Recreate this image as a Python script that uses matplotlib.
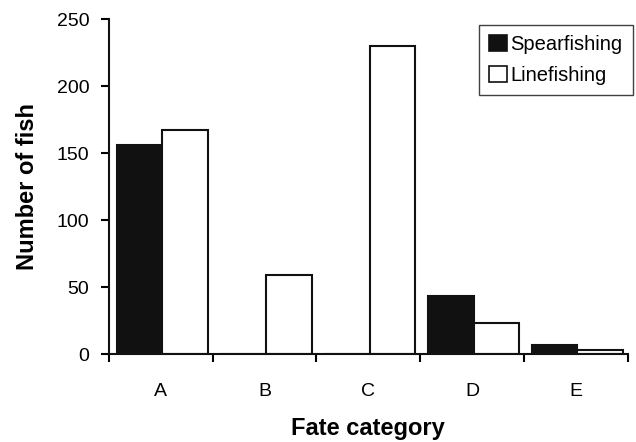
import matplotlib.pyplot as plt
import numpy as np
from matplotlib.patches import Patch

plt.rcParams["font.family"] = ["Liberation Sans", "DejaVu Sans"]

categories = ["A", "B", "C", "D", "E"]
spearfishing = [156, 0, 0, 43, 7]
linefishing = [167, 59, 230, 23, 3]


def main() -> None:
    fig = plt.figure(figsize=(6.36, 4.42), dpi=100)
    ax = fig.add_axes([0.171, 0.199, 0.816, 0.758])

    x = np.arange(len(categories))
    width = 0.44
    shift = 0.015
    ax.bar(x - width / 2 + shift, spearfishing, width, color="#111111",
           edgecolor="#111111", linewidth=1.5)
    ax.bar(x + width / 2 + shift, linefishing, width, color="white",
           edgecolor="#111111", linewidth=1.5)

    ax.set_xlim(-0.5, len(categories) - 0.5)
    ax.set_ylim(0, 250)
    ax.set_yticks(range(0, 251, 50))
    ax.set_xticks(x)
    ax.set_xticklabels(categories)
    ax.set_xticks(np.arange(-0.5, len(categories), 1.0), minor=True)
    ax.tick_params(axis="x", which="major", length=0, pad=21, labelsize=14)
    ax.tick_params(axis="x", which="minor", length=6, width=1.5, direction="out")
    ax.tick_params(axis="y", length=6, width=1.5, direction="out", labelsize=14, pad=8)

    for side in ["top", "right"]:
        ax.spines[side].set_visible(False)
    for side in ["left", "bottom"]:
        ax.spines[side].set_linewidth(1.5)
        ax.spines[side].set_color("#111111")

    ax.set_xlabel("Fate category", fontsize=17, fontweight="bold", labelpad=12)
    ax.set_ylabel("Number of fish", fontsize=17, fontweight="bold", labelpad=13)

    handles = [
        Patch(facecolor="#111111", edgecolor="#111111", linewidth=1.2, label="Spearfishing"),
        Patch(facecolor="white", edgecolor="#111111", linewidth=1.2, label="Linefishing"),
    ]
    leg = fig.legend(handles=handles, loc="upper right", bbox_to_anchor=(0.995, 0.944),
                     fontsize=14.5, frameon=True, fancybox=False, edgecolor="#111111",
                     handlelength=0.85, handleheight=0.85, handletextpad=0.2,
                     borderpad=0.5, labelspacing=0.6, borderaxespad=0)
    leg.get_frame().set_linewidth(1.0)

    fig.savefig("out.png", dpi=100)


if __name__ == "__main__":
    main()
